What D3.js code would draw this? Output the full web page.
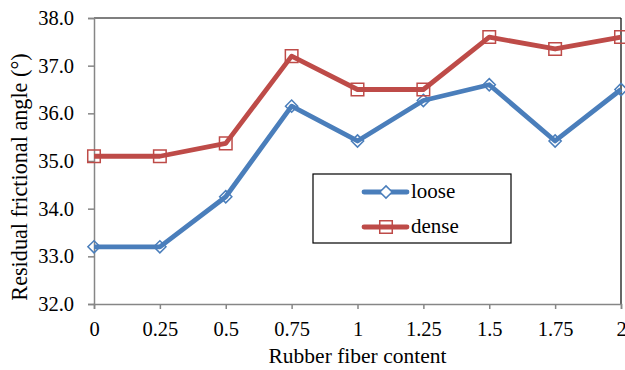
<!DOCTYPE html>
<html>
<head>
<meta charset="utf-8">
<script src="https://cdn.jsdelivr.net/npm/d3@7"></script>
<style>
  html, body { margin: 0; padding: 0; background: #fff; }
  svg { display: block; }
</style>
</head>
<body>
<svg id="chart" width="625" height="370"></svg>
<script>
const categories = [0, 0.25, 0.5, 0.75, 1, 1.25, 1.5, 1.75, 2];
const categoryLabels = ["0", "0.25", "0.5", "0.75", "1", "1.25", "1.5", "1.75", "2"];
const looseValues = [33.2, 33.2, 34.25, 36.15, 35.42, 36.27, 36.6, 35.42, 36.5];
const denseValues = [35.1, 35.1, 35.37, 37.2, 36.5, 36.5, 37.6, 37.35, 37.6];
const yTicks = [32, 33, 34, 35, 36, 37, 38];
const seriesNames = ["loose", "dense"];

const FONT = "'Liberation Serif', 'Times New Roman', serif";
const svg = d3.select("#chart");
const pLeft = 94, pRight = 621, pTop = 18, pBottom = 304;

const x = d3.scaleLinear().domain([0, 2]).range([pLeft, pRight]);
const y = d3.scaleLinear().domain([32, 38]).range([pBottom, pTop]);

const axisColor = "#868686";

// Top and right plot border
svg.append("line").attr("x1", pLeft).attr("x2", pRight).attr("y1", pTop).attr("y2", pTop)
  .attr("stroke", "#000").attr("stroke-width", 1.2);
svg.append("line").attr("x1", pRight).attr("x2", pRight).attr("y1", pTop).attr("y2", pBottom)
  .attr("stroke", "#000").attr("stroke-width", 1.2);

function styleText(sel, size) {
  sel.style("font-family", FONT).style("font-size", size + "px").style("fill", "#000");
}

// Y axis
const yAxis = d3.axisLeft(y).tickValues(yTicks).tickFormat(d3.format(".1f")).tickSize(6).tickPadding(14);
const gy = svg.append("g").attr("transform", `translate(${pLeft},0)`).call(yAxis);
gy.select(".domain").attr("stroke", axisColor).attr("stroke-width", 1.5);
gy.selectAll(".tick line").attr("stroke", axisColor).attr("stroke-width", 1.5);
styleText(gy.selectAll(".tick text"), 20.5);

// X axis
const xAxis = d3.axisBottom(x).tickValues(categories).tickFormat((d, i) => categoryLabels[i]).tickSize(5).tickPadding(12.5);
const gx = svg.append("g").attr("transform", `translate(0,${pBottom})`).call(xAxis);
gx.select(".domain").attr("stroke", axisColor).attr("stroke-width", 1.5);
gx.selectAll(".tick line").attr("stroke", axisColor).attr("stroke-width", 1.5);
styleText(gx.selectAll(".tick text"), 20.5);

// Axis titles
styleText(svg.append("text").attr("x", (pLeft + pRight) / 2).attr("y", 363).attr("text-anchor", "middle")
  .text("Rubber fiber content"), 21.5);
styleText(svg.append("text").attr("transform", `translate(27,177) rotate(-90)`)
  .attr("text-anchor", "middle").text("Residual frictional angle (°)"), 22.2);

const blue = "#4A7EBB", red = "#BE4B48";
const line = d3.line().x((d, i) => x(categories[i])).y(d => y(d));

const diamond = d3.symbol().type(d3.symbolDiamond2).size(95);
const square = d3.symbol().type(d3.symbolSquare2).size(200);

function drawSeries(values, color, sym) {
  svg.append("path").datum(values).attr("d", line).attr("fill", "none")
    .attr("stroke", color).attr("stroke-width", 4.8).attr("stroke-linejoin", "round");
  svg.selectAll(null).data(values).enter().append("path")
    .attr("transform", (d, i) => `translate(${x(categories[i])},${y(d)})`)
    .attr("d", sym).attr("fill", "none").attr("stroke", color).attr("stroke-width", 1.5);
}
drawSeries(looseValues, blue, diamond);
drawSeries(denseValues, red, square);

// Legend
const legend = svg.append("g");
legend.append("rect").attr("x", 313).attr("y", 174).attr("width", 198).attr("height", 69)
  .attr("fill", "#fff").attr("stroke", "#000").attr("stroke-width", 1.2);
const legendItems = [
  { name: seriesNames[0], color: blue, sym: diamond, y: 192 },
  { name: seriesNames[1], color: red, sym: square, y: 227 }
];
legendItems.forEach(it => {
  legend.append("line").attr("x1", 364).attr("x2", 407).attr("y1", it.y).attr("y2", it.y)
    .attr("stroke", it.color).attr("stroke-width", 4.8).attr("stroke-linecap", "round");
  legend.append("path").attr("transform", `translate(386,${it.y})`).attr("d", it.sym)
    .attr("fill", it.name === "loose" ? "#fff" : "none").attr("stroke", it.color).attr("stroke-width", 1.5);
  styleText(legend.append("text").attr("x", 411).attr("y", it.y + 6).text(it.name), 21);
});
</script>
</body>
</html>
